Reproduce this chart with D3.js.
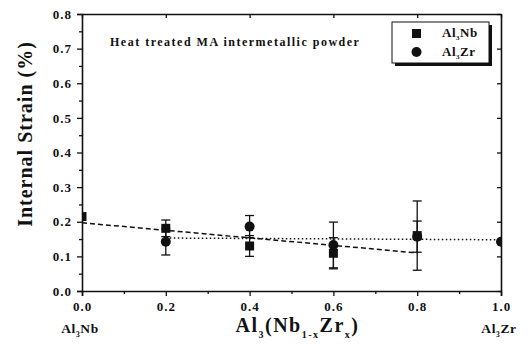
<!DOCTYPE html>
<html>
<head>
<meta charset="utf-8">
<script src="https://cdn.jsdelivr.net/npm/d3@7"></script>
<style>
  body { margin: 0; background: #fff; }
  svg { display: block; }
  text { font-family: "Liberation Serif", "Times New Roman", serif; font-weight: bold; fill: #111; }
</style>
</head>
<body>
<div id="chart"></div>
<script>
// ---- data ----
const nbX = [0, 0.2, 0.4, 0.6, 0.8];
const nbY = [0.215, 0.181, 0.130, 0.109, 0.160];
const nbErr = [0, 0.024, 0.030, 0.045, 0.100];

const zrX = [0.2, 0.4, 0.6, 0.8, 1.0];
const zrY = [0.142, 0.186, 0.133, 0.157, 0.142];
const zrErr = [0.038, 0.032, 0.066, 0.045, 0];

// linear fits drawn in the figure (endpoints)
const nbFitX = [0, 0.8];
const nbFitY = [0.197, 0.110];
const zrFitX = [0.2, 1.0];
const zrFitY = [0.153, 0.148];

const xTicks = [0, 0.2, 0.4, 0.6, 0.8, 1.0];
const yTicks = [0, 0.1, 0.2, 0.3, 0.4, 0.5, 0.6, 0.7, 0.8];

const serif = "'Liberation Serif', 'Times New Roman', serif";

const width = 529, height = 349;
const margin = { top: 14, right: 28, bottom: 58, left: 82 };
const innerW = width - margin.left - margin.right;
const innerH = height - margin.top - margin.bottom;

const svg = d3.select("#chart").append("svg")
  .attr("width", width)
  .attr("height", height);

const g = svg.append("g")
  .attr("transform", `translate(${margin.left},${margin.top})`);

const x = d3.scaleLinear().domain([0, 1]).range([0, innerW]);
const y = d3.scaleLinear().domain([0, 0.8]).range([innerH, 0]);

// clip so edge markers are cut in half like the original
svg.append("defs").append("clipPath").attr("id", "plot-clip")
  .append("rect").attr("width", innerW).attr("height", innerH);

// ---- axes ----
g.append("g")
  .attr("transform", `translate(0,${innerH})`)
  .call(d3.axisBottom(x).tickValues(xTicks).tickFormat(d3.format(".1f")).tickSize(5).tickPadding(6));
g.append("g")
  .attr("transform", `translate(0,${innerH})`)
  .call(d3.axisBottom(x).tickValues(d3.range(0.1, 1, 0.2)).tickFormat("").tickSize(3))
  .select(".domain").remove();

g.append("g")
  .call(d3.axisLeft(y).tickValues(yTicks).tickFormat(d3.format(".1f")).tickSize(5).tickPadding(5));
g.append("g")
  .call(d3.axisLeft(y).tickValues(d3.range(0.05, 0.8, 0.1)).tickFormat("").tickSize(3))
  .select(".domain").remove();

// mirrored ticks on top and right
g.append("g")
  .call(d3.axisTop(x).tickValues(xTicks).tickFormat("").tickSize(-4).tickSizeOuter(0));
g.append("g")
  .attr("transform", `translate(${innerW},0)`)
  .call(d3.axisRight(y).tickValues(yTicks).tickFormat("").tickSize(-4).tickSizeOuter(0));

g.selectAll(".domain").attr("stroke", "#111").attr("stroke-width", 1.6);
g.selectAll(".tick line").attr("stroke", "#111").attr("stroke-width", 1.3);
g.selectAll(".tick text")
  .attr("font-family", serif)
  .attr("font-weight", "bold")
  .attr("font-size", 13)
  .style("letter-spacing", "1px")
  .attr("fill", "#111");

// end labels under the x axis
const endLabel = (xv, base, sub, tail) => {
  const t = g.append("text")
    .attr("x", x(xv) - 2)
    .attr("y", innerH + 42)
    .attr("text-anchor", "middle")
    .style("font-size", "13.5px")
    .style("letter-spacing", "0.6px");
  t.append("tspan").text(base);
  t.append("tspan").attr("dy", 4).style("font-size", "7.5px").text(sub);
  t.append("tspan").attr("dy", -4).text(tail);
};
endLabel(0, "Al", "3", "Nb");
endLabel(1, "Al", "3", "Zr");

// axis titles
const xt = g.append("text")
  .attr("x", innerW / 2 + 6)
  .attr("y", innerH + 41)
  .attr("text-anchor", "middle")
  .style("font-size", "20px")
  .style("letter-spacing", "1.5px");
xt.append("tspan").text("Al");
xt.append("tspan").attr("dy", 6).style("font-size", "10px").text("3");
xt.append("tspan").attr("dy", -6).text("(Nb");
xt.append("tspan").attr("dy", 6).style("font-size", "10px").text("1-x");
xt.append("tspan").attr("dy", -6).text("Zr");
xt.append("tspan").attr("dy", 6).style("font-size", "10px").text("x");
xt.append("tspan").attr("dy", -6).text(")");

svg.append("text")
  .attr("transform", `translate(32,${margin.top + 120}) rotate(-90)`)
  .attr("text-anchor", "middle")
  .style("font-size", "20px")
  .style("letter-spacing", "1px")
  .text("Internal Strain (%)");

// annotation
g.append("text")
  .attr("x", 28)
  .attr("y", 32)
  .style("font-size", "12px")
  .style("letter-spacing", "1.5px")
  .text("Heat treated MA intermetallic powder");

// ---- plot content ----
const plot = g.append("g").attr("clip-path", "url(#plot-clip)");

const line = d3.line().x(d => x(d[0])).y(d => y(d[1]));

plot.append("path")
  .datum(d3.zip(nbFitX, nbFitY))
  .attr("d", line)
  .attr("fill", "none")
  .attr("stroke", "#111")
  .attr("stroke-width", 1.5)
  .attr("stroke-dasharray", "5,3");

plot.append("path")
  .datum(d3.zip(zrFitX, zrFitY))
  .attr("d", line)
  .attr("fill", "none")
  .attr("stroke", "#111")
  .attr("stroke-width", 1.5)
  .attr("stroke-dasharray", "1.5,2.5");

const nbData = nbX.map((v, i) => ({ x: v, y: nbY[i], e: nbErr[i] }));
const zrData = zrX.map((v, i) => ({ x: v, y: zrY[i], e: zrErr[i] }));

const drawErr = (data) => {
  const eg = plot.append("g").attr("stroke", "#111").attr("stroke-width", 1.3);
  data.filter(d => d.e > 0).forEach(d => {
    eg.append("line")
      .attr("x1", x(d.x)).attr("x2", x(d.x))
      .attr("y1", y(d.y - d.e)).attr("y2", y(d.y + d.e));
    [d.y - d.e, d.y + d.e].forEach(v => {
      eg.append("line")
        .attr("x1", x(d.x) - 4.5).attr("x2", x(d.x) + 4.5)
        .attr("y1", y(v)).attr("y2", y(v));
    });
  });
};
drawErr(nbData);
drawErr(zrData);

plot.selectAll(".nb").data(nbData).join("rect")
  .attr("class", "nb")
  .attr("x", d => x(d.x) - 4.5)
  .attr("y", d => y(d.y) - 4.5)
  .attr("width", 9).attr("height", 9)
  .attr("fill", "#111");

plot.selectAll(".zr").data(zrData).join("circle")
  .attr("class", "zr")
  .attr("cx", d => x(d.x))
  .attr("cy", d => y(d.y))
  .attr("r", 5)
  .attr("fill", "#111");

// ---- legend with drop shadow ----
const lg = svg.append("g").attr("transform", "translate(392,22)");
lg.append("rect").attr("x", 3).attr("y", 3).attr("width", 97).attr("height", 41).attr("fill", "#111");
lg.append("rect").attr("width", 97).attr("height", 41).attr("fill", "#fff").attr("stroke", "#111").attr("stroke-width", 1);
lg.append("rect").attr("x", 20).attr("y", 7).attr("width", 9).attr("height", 9).attr("fill", "#111");
lg.append("circle").attr("cx", 24.5).attr("cy", 30).attr("r", 5).attr("fill", "#111");

const legText = (yy, tail) => {
  const t = lg.append("text").attr("x", 50).attr("y", yy).style("font-size", "13px").style("letter-spacing", "0.5px");
  t.append("tspan").text("Al");
  t.append("tspan").attr("dy", 3).style("font-size", "7px").text("3");
  t.append("tspan").attr("dy", -3).text(tail);
};
legText(15, "Nb");
legText(34, "Zr");
</script>
</body>
</html>
